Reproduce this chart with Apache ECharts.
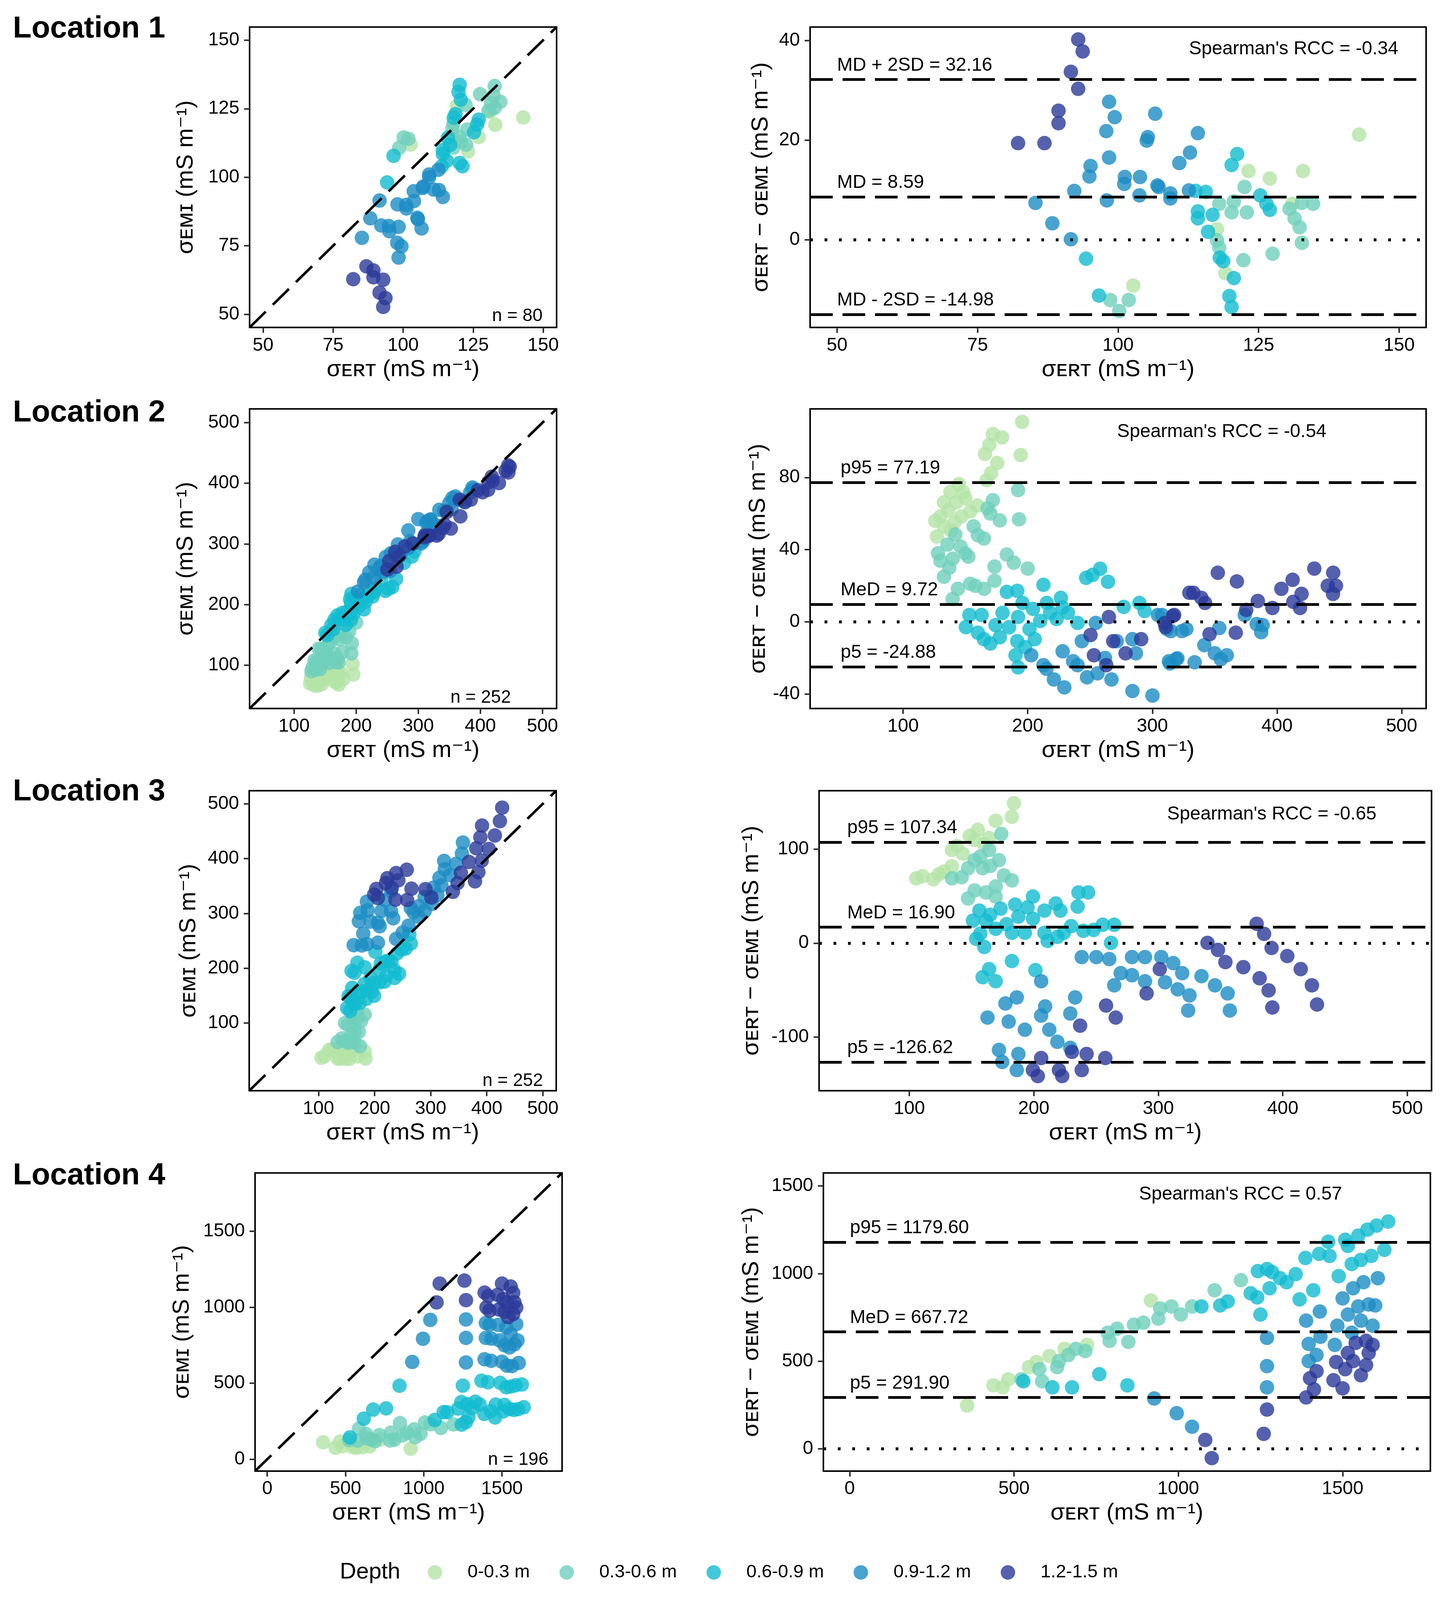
<!DOCTYPE html>
<html>
<head>
<meta charset="utf-8">
<title>ERT vs EMI</title>
<script src="https://cdn.jsdelivr.net/npm/echarts@6/dist/echarts.min.js"></script>
<style>
  html, body { margin: 0; padding: 0; background: #fff; overflow: hidden; }
  #chart { width: 3702px; height: 4207px; }
</style>
</head>
<body>
<div id="chart"></div>
<script>
// Depth classes and their colours
const depths = ['0-0.3 m', '0.3-0.6 m', '0.6-0.9 m', '0.9-1.2 m', '1.2-1.5 m'];
const depthColors = ['#b4e3a6', '#6fd0bb', '#12bccf', '#1c8cc3', '#2b3a98'];
const locations = ['Location 1', 'Location 2', 'Location 3', 'Location 4'];

// Points per location and depth: [sigma ERT, sigma ERT - sigma EMI]
const loc1 = [
  [[142.9,21.1],[132.9,13.8],[123.2,13.8],[127.0,12.3],[102.7,-9.2],[117.6,2.1],[119.1,-6.7],[131.0,7.2]],
  [[122.5,10.6],[122.9,5.5],[120.6,7.7],[120.2,5.5],[118.0,7.2],[117.6,-0.1],[118.0,-1.6],[122.3,-4.1],[127.5,-2.8],
   [130.5,6.2],[131.4,4.3],[132.3,2.5],[132.7,-0.6],[132.7,7.4],[134.7,7.2],[101.9,-12.1],[98.6,-12.1],[100.2,-14.3]],
  [[115.6,9.6],[120.2,15.0],[121.2,17.2],[114.2,5.7],[114.2,4.3],[116.8,5.0],[116.0,1.6],[94.3,-3.8],[96.6,-11.2],
   [118.1,-3.6],[118.7,-4.3],[120.6,-7.7],[119.8,-11.3],[120.2,-13.5],[125.3,8.9],[126.4,7.2],[127.0,6.0],[113.8,9.8]],
  [[98.4,27.7],[99.4,24.6],[97.9,21.8],[106.6,25.3],[105.3,20.6],[105.1,19.9],[114.2,21.4],[112.8,17.5],[110.9,15.4],
   [98.4,16.5],[95.1,14.8],[94.9,12.7],[101.2,12.6],[101.1,11.2],[103.9,12.6],[107.0,10.9],[107.2,10.6],[109.3,9.3],
   [109.3,8.3],[103.8,8.9],[98.0,7.9],[92.2,9.8],[85.3,7.4],[88.3,3.3],[91.6,0.1],[112.6,9.9]],
  [[92.9,40.2],[93.7,37.8],[91.6,33.7],[92.9,30.3],[89.4,25.9],[89.4,23.4],[82.2,19.4],[86.9,19.4]]
];

const loc2 = [
  [[195.5,110.8],[179.4,102.2],[169.2,98.0],[165.7,93.0],[194.4,92.4],[170.6,82.4],[167.1,78.5],[144.7,76.3],
   [148.2,71.9],[132.8,66.2],[142.6,66.2],[136.2,61.8],[153.8,61.2],[130.0,58.4],[146.8,58.4],[141.2,55.1],
   [132.8,52.8],[127.2,47.3],[138.4,50.6],[125.8,56.0],[159.7,64.4],[150.0,68.5],[138.0,72.0],[175.5,88.0],[172.0,104.0]],
  [[192.3,73.0],[172.0,67.4],[167.8,62.9],[177.6,56.2],[193.0,56.8],[156.6,52.9],[164.9,46.2],[141.9,48.4],
   [135.6,42.8],[146.2,41.7],[130.0,33.9],[139.8,35.0],[152.4,36.1],[183.2,37.3],[173.4,30.6],[188.8,32.8],
   [200.0,29.5],[132.8,25.0],[144.0,18.3],[153.8,21.1],[165.0,18.3],[173.4,22.8],[139.8,12.7],[170.0,60.0],
   [160.0,48.0],[150.0,38.0],[137.0,30.0],[158.0,20.0],[128.0,38.0]],
  [[246.9,24.4],[258.1,29.4],[264.4,22.2],[183.2,16.6],[191.6,17.2],[212.6,20.5],[226.6,13.3],[195.8,10.5],
   [215.3,10.5],[204.2,7.2],[232.2,5.0],[153.2,3.8],[163.0,3.8],[179.8,5.0],[192.3,2.7],[223.2,1.6],[240.0,-0.6],
   [150.4,-2.9],[174.2,-1.8],[201.4,-4.0],[164.9,-9.6],[177.6,-8.5],[191.6,-10.7],[205.6,-9.6],[190.2,-18.5],
   [192.3,-25.2],[277.0,8.3],[289.6,10.5],[293.8,6.0],[185.0,-3.0],[210.0,0.5],[170.0,-12.0],[218.0,5.0],
   [228.0,8.0],[160.0,-6.0],[198.0,-14.0],[252.0,26.0]],
  [[202.8,-18.5],[212.6,-24.0],[221.0,-31.9],[229.4,-36.3],[228.0,-16.3],[236.4,-21.8],[247.6,-30.7],[256.0,-28.5],
   [267.2,-31.9],[284.0,-38.3],[300.1,-40.8],[284.0,-9.6],[271.4,-10.7],[243.4,-10.7],[254.6,-0.6],[286.8,-17.4],
   [313.3,-21.8],[319.0,-20.7],[307.8,3.8],[314.8,-5.1],[304.5,3.8],[311.7,-4.0],[323.7,-5.1],[327.3,-4.0],
   [353.7,-3.4],[374.1,3.8],[383.7,-1.2],[388.5,-1.8],[387.3,-5.7],[341.7,-12.9],[350.1,-17.4],[359.7,-18.5],
   [354.9,-20.7],[320.1,-20.2],[314.1,-23.0],[333.9,-22.4],[215.0,-26.0],[240.0,-24.0],[262.0,-20.0]],
  [[265.1,2.7],[250.4,-7.3],[268.6,-10.7],[291.0,-9.6],[253.1,-18.5],[263.0,-24.0],[278.5,-17.4],[310.6,-2.9],
   [317.5,3.8],[332.9,16.1],[352.5,27.2],[367.8,22.4],[329.7,16.1],[339.3,13.3],[342.3,10.5],[429.9,29.5],
   [445.1,27.2],[440.7,20.0],[447.3,20.0],[444.9,15.5],[412.5,23.3],[403.5,18.3],[419.7,15.5],[413.1,11.1],
   [418.5,7.7],[384.6,11.6],[396.3,7.7],[375.3,6.6],[316.5,3.3],[309.9,-0.7],[366.9,-6.0],[345.9,-6.8]]
];

const loc3 = [
  [[184.0,148.7],[182.4,134.3],[169.4,130.0],[155.0,120.3],[148.5,113.9],[134.2,98.9],[138.1,103.2],[110.7,71.0],
   [119.2,67.8],[123.7,73.1],[134.2,81.7],[105.5,68.8],[152.4,109.6],[164.1,111.7],[128.0,76.0],[143.0,95.0],[160.0,105.0]],
  [[173.9,116.0],[164.1,98.9],[172.0,88.1],[152.4,88.1],[147.2,79.6],[158.9,79.6],[134.2,68.8],[182.4,66.7],
   [169.4,60.2],[152.4,55.9],[161.5,53.8],[147.2,47.4],[169.4,49.5],[157.0,92.0],[165.0,82.0],[176.0,72.0],[142.0,70.0]],
  [[199.3,49.5],[217.6,42.0],[235.9,53.8],[243.7,53.8],[235.2,38.8],[221.4,34.5],[185.0,40.9],[173.3,36.6],
   [156.3,34.5],[151.1,23.8],[187.6,28.1],[199.3,25.9],[208.5,34.5],[161.5,23.8],[169.4,15.2],[182.4,10.9],
   [192.8,10.9],[208.5,10.9],[224.1,10.9],[239.8,13.0],[255.4,19.5],[264.6,19.5],[262.0,0.2],[153.7,4.5],
   [160.2,-4.1],[211.1,2.3],[219.0,6.6],[158.9,-36.3],[169.4,-40.6],[182.4,-19.1],[201.3,-28.8],[164.1,-27.7],
   [165.0,30.0],[178.0,20.0],[195.0,38.0],[230.0,18.0],[248.0,14.0],[157.0,10.0]],
  [[238.5,-14.9],[250.2,-14.9],[260.6,-17.0],[278.9,-14.9],[289.3,-14.9],[269.8,-32.0],[278.9,-34.2],[264.6,-44.9],
   [289.3,-40.6],[205.9,-40.6],[186.3,-57.8],[177.2,-64.2],[233.2,-57.8],[209.1,-67.4],[205.9,-77.1],[229.3,-74.9],
   [162.8,-79.2],[179.8,-83.5],[192.8,-92.1],[212.4,-92.1],[218.9,-105.0],[172.0,-113.6],[187.6,-117.9],
   [174.6,-126.4],[186.3,-135.0],[229.3,-111.4],[302.4,-14.9],[312.0,-21.3],[305.4,-41.7],[319.2,-32.0],
   [315.6,-49.2],[325.1,-55.6],[324.0,-71.7],[334.7,-35.2],[345.5,-44.9],[355.7,-53.5],[357.5,-71.7]],
  [[258.0,-66.4],[265.8,-79.2],[237.2,-87.8],[230.6,-115.7],[242.4,-117.9],[257.4,-122.2],[205.9,-122.2],
   [199.3,-135.0],[203.2,-141.4],[220.2,-135.0],[222.8,-141.4],[238.5,-135.0],[290.6,-53.5],[301.2,-27.7],
   [339.5,0.2],[347.9,-7.3],[353.9,-20.2],[368.3,-25.6],[379.0,20.5],[385.0,9.8],[391.0,-5.2],[403.6,-13.8],
   [414.4,-27.7],[381.4,-37.4],[388.6,-50.3],[423.4,-44.9],[391.6,-68.5],[427.5,-65.3]]
];

const loc4 = [
  [[357.4,246.2],[437.3,361.7],[465.8,350.2],[482.9,396.4],[545.6,465.6],[568.5,494.5],[608.4,529.1],
   [654.0,569.6],[722.5,592.7],[916.4,846.7]],
  [[522.8,396.4],[577.0,454.1],[585.6,384.8],[631.2,465.6],[636.9,500.3],[665.4,534.9],[688.2,569.6],
   [716.8,558.0],[785.2,662.0],[813.7,685.0],[791.0,615.8],[848.0,610.0],[865.1,708.1],[893.6,719.7],
   [939.3,742.8],[945.0,800.5],[979.2,812.1],[1007.7,765.9],[1041.9,812.1],[1110.4,904.4],[1190.5,962.2]],
  [[528.5,384.8],[616.9,350.2],[676.8,350.2],[759.6,425.2],[845.1,361.7],[1070.4,812.1],[1127.5,817.8],
   [1150.3,840.9],[1220.2,887.1],[1240.1,864.0],[1250.0,765.9],[1242.1,1014.1],[1269.8,1025.7],[1285.7,1008.3],
   [1277.8,916.0],[1309.5,973.7],[1329.4,950.6],[1357.1,996.8],[1369.0,852.5],[1410.7,904.4],[1386.9,1089.2],
   [1428.6,1112.3],[1456.3,1181.6],[1460.3,1100.7],[1507.9,1193.1],[1515.9,1158.5],[1547.6,1216.2],
   [1575.4,1250.8],[1603.2,1273.9],[1638.9,1297.1],[1488.1,985.3],[1527.8,1054.6],[1555.6,1077.6],
   [1587.3,1100.7],[1627.0,1135.4]],
  [[926.7,286.7],[995.2,202.4],[1041.9,125.1],[1388.9,731.2],[1430.6,783.2],[1269.8,633.1],[1269.8,471.4],
   [1269.8,350.2],[1396.8,598.4],[1420.6,534.9],[1396.8,500.3],[1432.5,638.9],[1500.0,858.2],[1531.7,916.0],
   [1563.5,950.6],[1607.1,973.7],[1484.1,702.4],[1515.9,765.9],[1547.6,812.1],[1579.4,823.6],[1599.2,817.8],
   [1555.6,731.2],[1591.3,702.4],[1476.2,592.7],[1527.8,662.0]],
  [[1081.9,50.0],[1101.8,-54.0],[1269.8,223.2],[1259.9,84.6],[1400.8,402.1],[1420.6,442.5],[1412.7,338.6],
   [1388.9,292.4],[1472.2,390.6],[1500.0,344.4],[1480.2,494.5],[1507.9,454.1],[1515.9,546.5],[1539.7,604.2],
   [1571.4,615.8],[1579.4,546.5],[1571.4,477.0],[1555.6,419.4],[1531.7,500.3],[1591.3,592.7]]
];

const points = [loc1, loc2, loc3, loc4];

// Agreement lines (value, label) per location
const refLines = [
  [[32.16, 'MD + 2SD = 32.16'], [8.59, 'MD = 8.59'], [-14.98, 'MD - 2SD = -14.98']],
  [[77.19, 'p95 = 77.19'], [9.72, 'MeD = 9.72'], [-24.88, 'p5 = -24.88']],
  [[107.34, 'p95 = 107.34'], [16.90, 'MeD = 16.90'], [-126.62, 'p5 = -126.62']],
  [[1179.60, 'p95 = 1179.60'], [667.72, 'MeD = 667.72'], [291.90, 'p5 = 291.90']]
];
const rccLabels = ["Spearman's RCC = -0.34", "Spearman's RCC = -0.54", "Spearman's RCC = -0.65", "Spearman's RCC = 0.57"];
const nLabels = ['n = 80', 'n = 252', 'n = 252', 'n = 196'];

// Axis ticks and ranges
const scatterTicks = [[50, 75, 100, 125, 150], [100, 200, 300, 400, 500], [100, 200, 300, 400, 500], [0, 500, 1000, 1500]];
const diffTicks = [[0, 20, 40], [-40, 0, 40, 80], [-100, 0, 100], [0, 500, 1000, 1500]];
const scatterRange = [[45.2, 154.8], [28.4, 522.8], [-23.5, 523.8], [-78, 1884]];
const baXRange = [[45.2, 154.8], [25.4, 519.6], [27.5, 519.5], [-80, 1767]];
const baYRange = [[-17.6, 42.7], [-48, 118], [-157, 162], [-128, 1575]];

// Layout in pixels for a 3702 x 4207 page (one entry per row)
const layout = [
  { top: 71,   h: 790, lx: 639, lw: 786, rx: 2074, rw: 1577, lGap: 133, rGap: 96,  dx: 69, locY: 76.5, rccX: 3312, rccY: 129,  nX: 1389, nY: 855 },
  { top: 1075, h: 788, lx: 639, lw: 786, rx: 2074, rw: 1577, lGap: 133, rGap: 103, dx: 78, locY: 1086, rccX: 3128, rccY: 1136, nX: 1308, nY: 1858 },
  { top: 2079, h: 789, lx: 638, lw: 786, rx: 2097, rw: 1568, lGap: 125, rGap: 143, dx: 72, locY: 2082, rccX: 3256, rccY: 2141, nX: 1390, nY: 2866 },
  { top: 3084, h: 784, lx: 653, lw: 786, rx: 2108, rw: 1554, lGap: 157, rGap: 154, dx: 68, locY: 3092, rccX: 3176, rccY: 3141, nX: 1404, nY: 3862 }
];
const legendY = 4134;

// the visible page can be shorter than the figure: squeeze vertically to keep everything in view
const PAGE_H = 4207;
const viewH = (window.innerHeight && window.innerHeight < PAGE_H) ? window.innerHeight : PAGE_H;
const SY = viewH / PAGE_H;
document.getElementById('chart').style.height = viewH + 'px';

const FONT = "'Liberation Sans', Arial, 'DejaVu Sans', sans-serif";
const xTitle = 'σᴇʀᴛ (mS m⁻¹)';
const yTitleScatter = 'σᴇᴍɪ (mS m⁻¹)';
const yTitleDiff = 'σᴇʀᴛ − σᴇᴍɪ (mS m⁻¹)';
const dashed = [58, 25];

function makeAxis(gridIndex, range, ticks, name, gap, isY) {
  return {
    type: 'value',
    gridIndex: gridIndex,
    min: range[0],
    max: range[1],
    axisLine: { show: false, onZero: false },
    splitLine: { show: false },
    axisTick: { show: true, length: 14, lineStyle: { color: '#333', width: 4 }, customValues: ticks },
    axisLabel: {
      color: '#000', fontSize: 48, fontFamily: FONT, margin: isY ? 26 : 22, customValues: ticks,
      formatter: function (v) { return String(v); }
    },
    name: name,
    nameLocation: 'middle',
    nameGap: gap,
    nameTextStyle: { color: '#000', fontSize: 60, fontFamily: FONT }
  };
}

const grids = [], xAxes = [], yAxes = [], series = [], graphics = [];

points.forEach(function (loc, i) {
  const L = layout[i];
  const gl = 2 * i, gr = 2 * i + 1;
  const top = L.top * SY, h = L.h * SY;
  grids.push({ left: L.lx, top: top, width: L.lw, height: h, show: true, borderColor: '#000', borderWidth: 4 });
  grids.push({ left: L.rx, top: top, width: L.rw, height: h, show: true, borderColor: '#000', borderWidth: 4 });

  xAxes.push(makeAxis(gl, scatterRange[i], scatterTicks[i], xTitle, 78, false));
  yAxes.push(makeAxis(gl, scatterRange[i], scatterTicks[i], yTitleScatter, L.lGap, true));
  xAxes.push(makeAxis(gr, baXRange[i], scatterTicks[i], xTitle, 78, false));
  yAxes.push(makeAxis(gr, baYRange[i], diffTicks[i], yTitleDiff, L.rGap, true));

  loc.forEach(function (pts, d) {
    const common = {
      type: 'scatter',
      name: depths[d],
      symbolSize: 37,
      itemStyle: { color: depthColors[d], opacity: 0.8 },
      z: 2
    };
    // sigma EMI = sigma ERT - difference
    series.push(Object.assign({}, common, {
      xAxisIndex: gl, yAxisIndex: gl,
      data: pts.map(function (p) { return [p[0], +(p[0] - p[1]).toFixed(2)]; })
    }));
    series.push(Object.assign({}, common, {
      xAxisIndex: gr, yAxisIndex: gr,
      data: pts.map(function (p) { return [p[0], p[1]]; })
    }));
  });

  // 1:1 line
  const lo = scatterRange[i][0], hi = scatterRange[i][1];
  series.push({
    type: 'scatter', name: 'identity', xAxisIndex: gl, yAxisIndex: gl, data: [], z: 5, silent: true,
    markLine: {
      silent: true, symbol: ['none', 'none'], animation: false,
      label: { show: false },
      lineStyle: { color: '#000', width: 6.5, type: dashed, cap: 'butt' },
      data: [[{ coord: [lo, lo] }, { coord: [hi, hi] }]]
    }
  });

  // agreement lines and zero line
  const lineData = refLines[i].map(function (r) {
    return { yAxis: r[0], label: { formatter: r[1] } };
  });
  lineData.push({ yAxis: 0, lineStyle: { type: [7, 30], width: 7.5 }, label: { show: false } });
  series.push({
    type: 'scatter', name: 'limits', xAxisIndex: gr, yAxisIndex: gr, data: [], z: 5, silent: true,
    markLine: {
      silent: true, symbol: ['none', 'none'], animation: false,
      lineStyle: { color: '#000', width: 7, type: dashed, cap: 'butt' },
      label: {
        show: true, position: 'insideStartTop', distance: [L.dx, 12],
        color: '#000', fontSize: 48, fontFamily: FONT
      },
      data: lineData
    }
  });

  graphics.push({
    type: 'text', x: 33, y: L.locY * SY,
    style: { text: locations[i], fill: '#000', fontSize: 78, fontWeight: 'bold', fontFamily: FONT, align: 'left', verticalAlign: 'middle' }
  });
  graphics.push({
    type: 'text', x: L.rccX, y: L.rccY * SY,
    style: { text: rccLabels[i], fill: '#000', fontSize: 48, fontFamily: FONT, align: 'center', verticalAlign: 'middle' }
  });
  graphics.push({
    type: 'text', x: L.nX, y: L.nY * SY,
    style: { text: nLabels[i], fill: '#000', fontSize: 46, fontFamily: FONT, align: 'right', verticalAlign: 'bottom' }
  });
});

graphics.push({
  type: 'text', x: 870, y: legendY * SY,
  style: { text: 'Depth', fill: '#000', fontSize: 58, fontFamily: FONT, align: 'left', verticalAlign: 'middle' }
});

const option = {
  backgroundColor: '#fff',
  animation: false,
  grid: grids,
  xAxis: xAxes,
  yAxis: yAxes,
  legend: {
    data: depths,
    left: 1090,
    top: legendY * SY - 28,
    icon: 'circle',
    itemWidth: 37,
    itemHeight: 37,
    itemGap: 76,
    selectedMode: false,
    textStyle: { color: '#000', fontSize: 47, fontFamily: FONT, padding: [0, 0, 0, 60] }
  },
  graphic: graphics,
  series: series
};

const chart = echarts.init(document.getElementById('chart'));
chart.setOption(option);
window.addEventListener('resize', function () { chart.resize(); });
</script>
</body>
</html>
